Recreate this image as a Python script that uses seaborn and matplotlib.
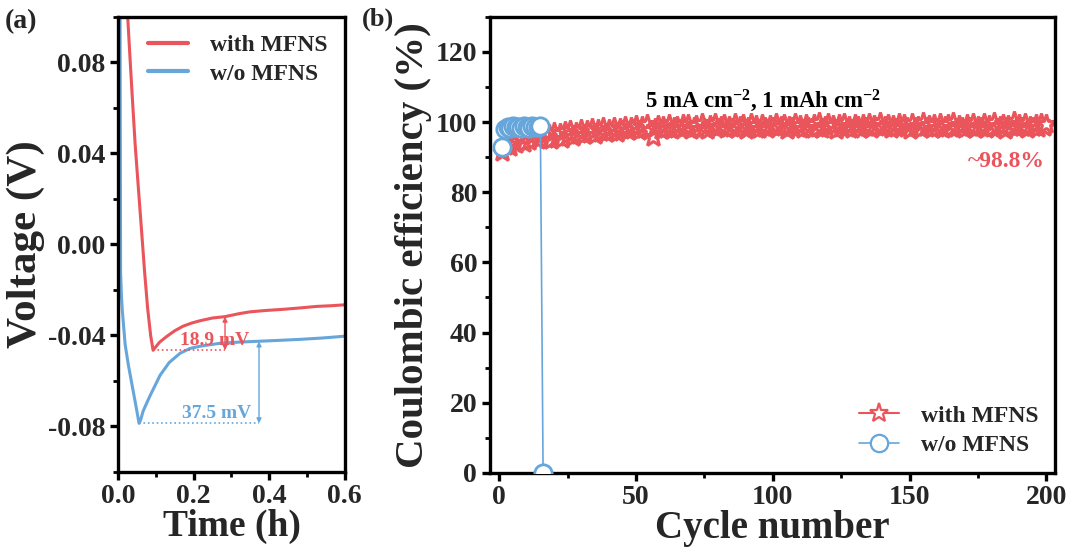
import numpy as np
import pandas as pd
import matplotlib
matplotlib.use("Agg")
import matplotlib.pyplot as plt
import seaborn as sns
from matplotlib.ticker import MultipleLocator

# ---------------- data ----------------
# Panel (a): voltage-time curves
t_with = [0.024, 0.030, 0.037, 0.045, 0.053, 0.062, 0.070, 0.078, 0.086, 0.0925,
          0.100, 0.110, 0.1295, 0.150, 0.172, 0.195, 0.217, 0.250, 0.283, 0.320,
          0.349, 0.390, 0.436, 0.480, 0.526, 0.565, 0.600]
v_with = [0.104, 0.086, 0.066, 0.044, 0.026, 0.006, -0.012, -0.028, -0.040, -0.0466,
          -0.0450, -0.0430, -0.0404, -0.0380, -0.0360, -0.0346, -0.0336, -0.0324, -0.0318, -0.0305,
          -0.0297, -0.0291, -0.0286, -0.0280, -0.0273, -0.0270, -0.0266]

t_wo = [0.0050, 0.0058, 0.0065, 0.0085, 0.0110, 0.0150, 0.0185, 0.0270, 0.0370, 0.0460,
        0.0530, 0.0555, 0.0600, 0.0660, 0.0750, 0.0850, 0.0980, 0.1110, 0.1350, 0.1640,
        0.1900, 0.2170, 0.2700, 0.3200, 0.3750, 0.4300, 0.4810, 0.5400, 0.6000]
v_wo = [0.105, 0.040, -0.012, -0.022, -0.029, -0.037, -0.044, -0.053, -0.062, -0.070,
        -0.0765, -0.0787, -0.0770, -0.0734, -0.0700, -0.0664, -0.0620, -0.0576, -0.0520, -0.0479,
        -0.0458, -0.0448, -0.0435, -0.0430, -0.0426, -0.0422, -0.0418, -0.0412, -0.0404]

# annotation values (a)
with_min = (0.0925, -0.0466)
with_arrow_t, with_arrow_top = 0.283, -0.0318
wo_min = (0.0555, -0.0787)
wo_arrow_t, wo_arrow_top = 0.373, -0.0427

# Panel (b): Coulombic efficiency
ce_with = [
    91.5, 93.2, 94.0, 92.8, 95.1, 93.6, 94.7, 95.8, 93.9, 96.2, 94.5, 95.9, 96.8, 94.8, 96.1, 97.0, 95.3, 96.6, 94.9, 97.2,
    95.8, 96.9, 95.2, 97.4, 96.3, 97.8, 95.7, 97.1, 96.5, 98.0, 96.2, 97.6, 96.9, 98.3, 96.4, 97.9, 97.2, 98.5, 96.8, 98.1,
    97.3, 98.6, 97.0, 98.4, 97.6, 99.0, 97.4, 98.7, 97.9, 99.1, 97.5, 98.8, 98.0, 99.3, 97.7, 95.8, 98.2, 99.2, 97.8, 98.9,
    98.1, 99.4, 97.6, 98.7, 99.0, 97.9, 99.3, 98.3, 99.5, 97.8, 98.6, 99.2, 98.0, 99.6, 98.4, 97.7, 99.1, 98.5, 99.7, 98.2,
    98.8, 99.3, 97.9, 99.0, 98.4, 99.8, 98.1, 98.9, 99.4, 97.8, 98.7, 99.6, 98.3, 99.1, 98.0, 99.5, 98.6, 97.9, 99.2, 98.5,
    99.7, 98.2, 98.9, 99.4, 97.8, 99.0, 98.6, 99.8, 98.3, 99.2, 98.0, 99.5, 98.7, 97.9, 99.3, 98.4, 99.9, 98.1, 98.8, 99.6,
    98.2, 99.1, 97.8, 99.4, 98.6, 99.8, 98.3, 99.0, 98.0, 99.5, 98.8, 97.9, 99.3, 98.5, 99.7, 98.1, 99.2, 98.6, 100.0, 98.3,
    98.9, 99.5, 97.9, 99.1, 98.4, 99.8, 98.2, 99.3, 98.7, 97.8, 99.6, 98.5, 99.0, 98.1, 99.9, 98.6, 99.2, 97.9, 99.4, 98.3,
    99.7, 98.0, 98.8, 99.5, 98.4, 100.1, 98.2, 99.1, 98.6, 97.9, 99.3, 98.5, 99.8, 98.1, 99.0, 98.7, 99.6, 98.0, 99.2, 98.4,
    99.9, 98.3, 98.9, 99.4, 97.8, 99.1, 98.6, 100.2, 98.2, 99.3, 98.5, 99.7, 98.1, 99.0, 98.7, 99.5, 98.3, 99.8, 98.6, 99.4,
]
cycles_with = list(range(1, len(ce_with) + 1))

ce_wo = [92.8, 98.0, 98.6, 98.3, 98.9, 98.5, 98.7, 98.2, 98.8, 98.6, 98.4, 98.9, 98.5, 98.7, 98.8, 0.0]
cycles_wo = list(range(1, len(ce_wo) + 1))

labels = ["with MFNS", "w/o MFNS"]
RED = "#EA545B"
BLUE = "#66A6DA"

# ---------------- style ----------------
sns.set_style("ticks")
plt.rcParams["font.family"] = ["Liberation Serif", "DejaVu Serif"]
plt.rcParams["font.weight"] = "bold"
plt.rcParams["axes.labelweight"] = "bold"
plt.rcParams["mathtext.fontset"] = "custom"
plt.rcParams["mathtext.rm"] = "Liberation Serif:bold"
plt.rcParams["mathtext.bf"] = "Liberation Serif:bold"
plt.rcParams["mathtext.it"] = "Liberation Serif:bold"

fig = plt.figure(figsize=(10.74, 5.59), dpi=100)
ax1 = fig.add_axes([0.110, 0.156, 0.211, 0.814])
ax2 = fig.add_axes([0.456, 0.154, 0.526, 0.816])

def style_axes(ax):
    for s in ax.spines.values():
        s.set_linewidth(2.4)
        s.set_color("black")
        s.set_visible(True)
    ax.tick_params(which="major", direction="out", length=6, width=2.4,
                   labelsize=20, color="black", pad=3)
    ax.tick_params(which="minor", direction="out", length=3.5, width=2.0, color="black")
    for lab in ax.get_xticklabels() + ax.get_yticklabels():
        lab.set_fontweight("bold")

# ---------------- panel (a) ----------------
df_with = pd.DataFrame({"t": t_with, "v": v_with})
df_wo = pd.DataFrame({"t": t_wo, "v": v_wo})
sns.lineplot(data=df_with, x="t", y="v", ax=ax1, color=RED, lw=2.2,
             sort=False, estimator=None, label=labels[0])
sns.lineplot(data=df_wo, x="t", y="v", ax=ax1, color=BLUE, lw=2.2,
             sort=False, estimator=None, label=labels[1])
ax1.set_xlim(0, 0.6)
ax1.set_ylim(-0.1, 0.1)
ax1.xaxis.set_minor_locator(MultipleLocator(0.1))
ax1.yaxis.set_minor_locator(MultipleLocator(0.02))
ax1.set_xticks([0.0, 0.2, 0.4, 0.6])
ax1.set_xticklabels(["0.0", "0.2", "0.4", "0.6"])
ax1.set_yticks([-0.08, -0.04, 0.0, 0.04, 0.08])
ax1.set_yticklabels(["-0.08", "-0.04", "0.00", "0.04", "0.08"])
ax1.set_xlabel("Time (h)", fontsize=27, fontweight="bold", labelpad=0)
ax1.set_ylabel("Voltage (V)", fontsize=31, fontweight="bold", labelpad=2)
style_axes(ax1)

# annotations (a)
ax1.plot([with_min[0], with_arrow_t], [with_min[1], with_min[1]], ls=":", color=RED, lw=1.2)
ax1.annotate("", xy=(with_arrow_t, with_arrow_top), xytext=(with_arrow_t, with_min[1]),
             arrowprops=dict(arrowstyle="<|-|>", color=RED, lw=1.0, mutation_scale=7,
                             shrinkA=0, shrinkB=0))
ax1.text(0.256, -0.0422, "18.9 mV", color=RED, fontsize=14, fontweight="bold",
         ha="center", va="center")
ax1.plot([wo_min[0], wo_arrow_t], [wo_min[1], wo_min[1]], ls=":", color=BLUE, lw=1.2)
ax1.annotate("", xy=(wo_arrow_t, wo_arrow_top), xytext=(wo_arrow_t, wo_min[1]),
             arrowprops=dict(arrowstyle="<|-|>", color=BLUE, lw=1.0, mutation_scale=7,
                             shrinkA=0, shrinkB=0))
ax1.text(0.262, -0.0743, "37.5 mV", color=BLUE, fontsize=14, fontweight="bold",
         ha="center", va="center")

leg1 = ax1.legend(loc="upper right", bbox_to_anchor=(1.0, 1.0), frameon=False,
                  prop=dict(family="Liberation Serif", weight="bold", size=17),
                  handlelength=1.7, handletextpad=0.9, labelspacing=0.3,
                  borderaxespad=0.35)
for lh in leg1.get_lines():
    lh.set_linewidth(3)

# ---------------- panel (b) ----------------
df_cw = pd.DataFrame({"cycle": cycles_with, "ce": ce_with})
df_co = pd.DataFrame({"cycle": cycles_wo, "ce": ce_wo})
sns.lineplot(data=df_cw, x="cycle", y="ce", ax=ax2, color=RED, lw=1.5,
             marker="*", markersize=14, markerfacecolor="white",
             markeredgecolor=RED, markeredgewidth=2.2,
             sort=False, estimator=None, label=labels[0], zorder=2)
sns.lineplot(data=df_co, x="cycle", y="ce", ax=ax2, color=BLUE, lw=1.2,
             marker="o", markersize=12.5, markerfacecolor="white",
             markeredgecolor=BLUE, markeredgewidth=2.0,
             sort=False, estimator=None, label=labels[1], zorder=3)
ax2.set_xlim(-3.5, 203)
ax2.set_ylim(0, 130)
ax2.xaxis.set_major_locator(MultipleLocator(50))
ax2.xaxis.set_minor_locator(MultipleLocator(25))
ax2.yaxis.set_minor_locator(MultipleLocator(10))
ax2.set_yticks([0, 20, 40, 60, 80, 100, 120])
ax2.set_xlabel("Cycle number", fontsize=28, fontweight="bold", labelpad=0)
ax2.set_ylabel("Coulombic efficiency (%)", fontsize=29.5, fontweight="bold", labelpad=3)
style_axes(ax2)

ax2.text(96.5, 106, r"5 mA cm$^{-2}$, 1 mAh cm$^{-2}$", fontsize=16.5,
         fontweight="bold", ha="center", va="center", color="black")
ax2.text(199.5, 88.8, "~98.8%", fontsize=17, fontweight="bold",
         ha="right", va="center", color=RED)

leg2 = ax2.legend(loc="lower right", bbox_to_anchor=(1.0, 0.0), frameon=False,
                  prop=dict(family="Liberation Serif", weight="bold", size=17),
                  handlelength=1.7, handletextpad=0.9, labelspacing=0.35,
                  borderaxespad=0.3)
for lh in leg2.get_lines():
    lh.set_markeredgewidth(1.6)

# panel labels
fig.text(0.004, 0.962, "(a)", fontsize=20, fontweight="bold", ha="left", va="center")
fig.text(0.337, 0.966, "(b)", fontsize=19, fontweight="bold", ha="left", va="center")

fig.savefig("out.png", dpi=100)
